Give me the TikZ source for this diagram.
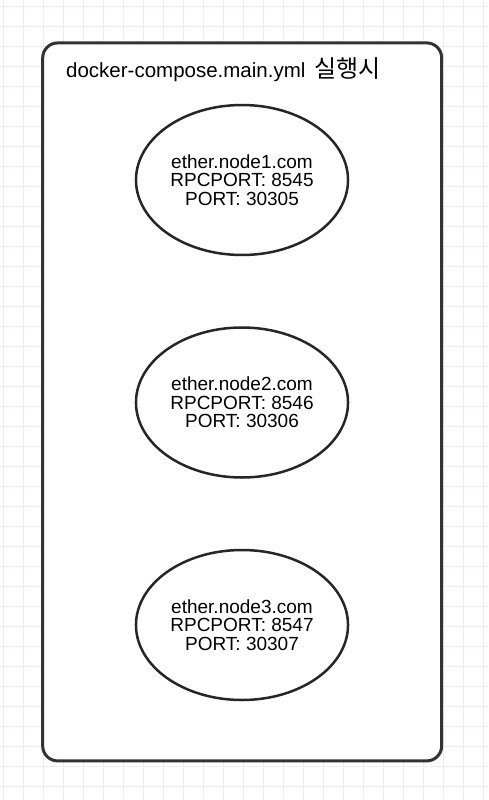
\documentclass[tikz,border=0pt]{standalone}
\usepackage{fontspec}
\setmainfont{Liberation Sans}
\newfontfamily\krfont{Noto Sans CJK KR}
\usetikzlibrary{shapes.geometric}
\usetikzlibrary{positioning}

\begin{document}
\begin{tikzpicture} [x=1pt,y=-1pt]
\useasboundingbox (0,0) rectangle (488,800);
\fill[white] (0,0) rectangle (488,800);
\foreach \x in {3.3,23.3,...,483.3} {
 \draw[black!10!blue!8, line width=1pt] (\x,0) -- (\x,800);
}
\foreach \y in {6.7,26.7,...,786.7} {
 \draw[black!10!blue!8, line width=1pt] (0,\y) -- (488,\y);
}
\node[draw=black!80, line width=3pt, rounded corners=15pt, fill=white,
 minimum width=399pt, minimum height=718pt] (frame) at (242.2,401.9) {};
\node[anchor=west, font=\fontsize{20.5}{24}\selectfont, inner sep=0pt] (title) at (66,70)
 {docker-compose.main.yml\hspace{9pt}{\krfont\fontsize{24}{24}\selectfont 실행시}};
\tikzset{ethnode/.style={ellipse, draw=black!85, line width=2.5pt, fill=white,
 minimum width=202pt, minimum height=150pt, align=center,
 font=\fontsize{19}{18.5}\selectfont}}
\node[ethnode] (node1) at (242,180) {ether.node1.com\\RPCPORT: 8545\\PORT: 30305};
\node[ethnode, below=70pt of node1] (node2) {ether.node2.com\\RPCPORT: 8546\\PORT: 30306};
\node[ethnode, below=70pt of node2] (node3) {ether.node3.com\\RPCPORT: 8547\\PORT: 30307};
\end{tikzpicture}
\end{document}
